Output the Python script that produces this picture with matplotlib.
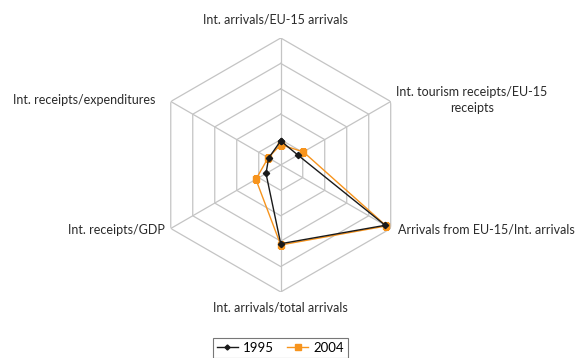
import numpy as np
import matplotlib
matplotlib.use('Agg')
from matplotlib import pyplot as plt

axis_labels = ["Int. arrivals/EU-15 arrivals",
               "Int. tourism receipts/EU-15\nreceipts",
               "Arrivals from EU-15/Int. arrivals",
               "Int. arrivals/total arrivals",
               "Int. receipts/GDP",
               "Int. receipts/expenditures"]
vals_1995 = [0.95, 0.78, 4.75, 3.1, 0.67, 0.55]
vals_2004 = [0.8, 1.03, 4.8, 3.15, 1.13, 0.57]
rings = [1, 2, 3, 4, 5]

plt.rcParams['font.family'] = ['Lato', 'DejaVu Sans']

fig = plt.figure(figsize=(5.78, 3.58), dpi=100)
ax = fig.add_axes([0.266, 0.1844, 0.4394, 0.7095], projection='polar')
ax.set_theta_offset(np.pi / 2)
ax.set_theta_direction(-1)

n = len(axis_labels)
theta = np.arange(n) * 2 * np.pi / n
theta_c = np.append(theta, theta[0])

# hexagon grid + spokes
grid_col = '#c4c4c4'
for r in rings:
    ax.plot(theta_c, [r] * (n + 1), color=grid_col, lw=0.9, zorder=1)
for t in theta:
    ax.plot([t, t], [0, rings[-1]], color=grid_col, lw=0.9, zorder=1)

ax.plot(theta_c, vals_1995 + vals_1995[:1], color='#1a1a1a', lw=1.0,
        marker='D', ms=3.2, label='1995', zorder=3)
ax.plot(theta_c, vals_2004 + vals_2004[:1], color='#f7941d', lw=1.0,
        marker='s', ms=4.8, label='2004', zorder=2)

ax.set_ylim(0, 5)
ax.grid(False)
ax.set_xticks([])
ax.set_yticks([])
ax.spines['polar'].set_visible(False)
ax.patch.set_visible(False)

# axis labels (pixel positions from top-left)
W, H = 578, 358
lab_pos = [(275, 20, 'center'), (472, 100, 'center'), (398, 230, 'left'),
           (280, 307, 'center'), (165, 230, 'right'), (13, 100, 'left')]
for lab, (x, y, ha) in zip(axis_labels, lab_pos):
    fig.text(x / W, 1 - y / H, lab, ha=ha, va='center', fontsize=9,
             color='#2a2a2a', linespacing=1.3)

leg = fig.legend(loc='upper center', bbox_to_anchor=(0.485, 1 - 338 / H),
                 ncol=2, frameon=True, fancybox=False, fontsize=9.5,
                 handlelength=1.6, handletextpad=0.4, columnspacing=1.0,
                 borderpad=0.3, borderaxespad=0, markerscale=0.8)
leg.get_frame().set_edgecolor('#555555')
leg.get_frame().set_linewidth(0.8)

fig.savefig('out.png', dpi=100)
